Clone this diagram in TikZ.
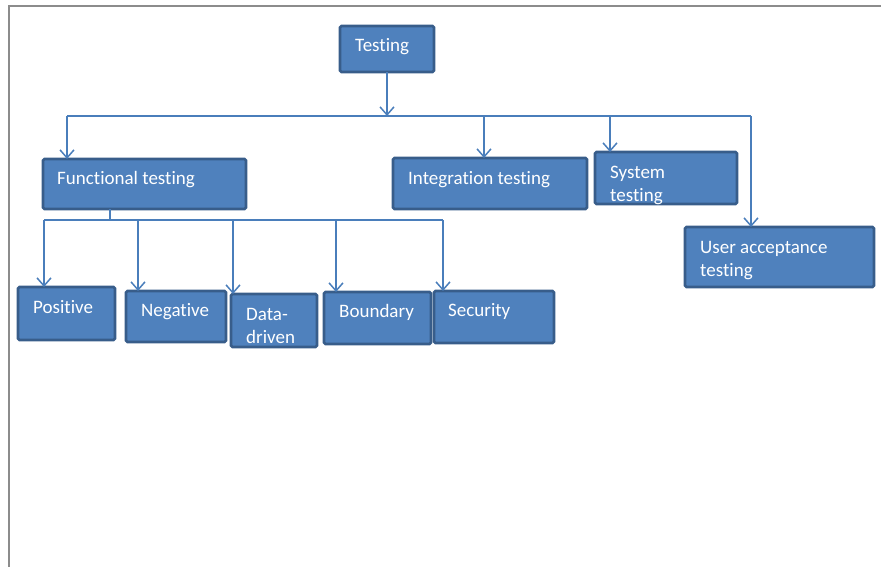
\documentclass[tikz,border=0pt]{standalone}
\usepackage{fontspec}
\setmainfont{Carlito}[Ligatures=NoCommon]
\usetikzlibrary{arrows.meta}
\definecolor{boxfill}{HTML}{4F81BD}
\definecolor{boxline}{HTML}{385D8A}
\definecolor{conncol}{HTML}{4A7EBB}
\definecolor{framecol}{HTML}{8C8C8C}
\tikzset{
  box/.style={draw=boxline, fill=boxfill, line width=2.6pt, rounded corners=1.5pt, outer sep=0pt, inner sep=0pt},
  lbl/.style={text=white, font=\fontsize{19}{23}\selectfont, anchor=base west, align=left, inner sep=0pt},
  conn/.style={draw=conncol, line width=1.5pt},
  arr/.style={conn, -{Straight Barb[length=8pt,width=14pt,line width=1.5pt]}}
}
\begin{document}
\begin{tikzpicture}[x=1pt,y=-1pt]
\useasboundingbox (0,0) rectangle (881,567);
\draw[framecol, line width=2pt] (9,567) -- (9,6) -- (881,6);

% boxes
\node[box, minimum width=94, minimum height=46] (testing) at (387,49) {};
\node[box, minimum width=203, minimum height=50] (func) at (144.5,184) {};
\node[box, minimum width=194, minimum height=51] (integ) at (490,183.5) {};
\node[box, minimum width=142, minimum height=52] (system) at (666,178) {};
\node[box, minimum width=189, minimum height=60] (uat) at (779.5,257) {};
\node[box, minimum width=97, minimum height=53] (pos) at (66.5,313.5) {};
\node[box, minimum width=100, minimum height=51] (neg) at (176,316.5) {};
\node[box, minimum width=86, minimum height=53] (data) at (274,320.5) {};
\node[box, minimum width=107, minimum height=52] (bound) at (377.5,318) {};
\node[box, minimum width=120, minimum height=52] (sec) at (494,317) {};

% labels (base anchor = baseline of the last line)
\node[lbl] (t-testing) at (355,52) {Testing};
\node[lbl] (t-func) at (57,184) {Functional testing};
\node[lbl] (t-integ) at (408,184) {Integration testing};
\node[lbl] (t-system) at (610,201) {System\\testing};
\node[lbl] (t-uat) at (700,276) {User acceptance\\testing};
\node[lbl] (t-pos) at (33,313) {Positive};
\node[lbl] (t-neg) at (141,316) {Negative};
\node[lbl] (t-data) at (246,343) {Data-\\driven};
\node[lbl] (t-bound) at (339,317) {Boundary};
\node[lbl] (t-sec) at (448,316) {Security};

% top bus
\coordinate (busT) at (387,116);
\coordinate (busL) at (67,116);
\coordinate (busI) at (484,116);
\coordinate (busS) at (610,116);
\coordinate (busR) at (751,116);
\draw[arr] (testing.south) -- (busT);
\draw[conn] (busL) -- (busR);
\draw[arr] (busL) -- (busL |- func.north);
\draw[arr] (busI) -- (busI |- integ.north);
\draw[arr] (busS) -- (busS |- system.north);
\draw[arr] (busR) -- (busR |- uat.north);

% functional bus
\coordinate (fdrop) at (110,220);
\coordinate (fL) at (44,220);
\coordinate (fN) at (138,220);
\coordinate (fD) at (233,220);
\coordinate (fB) at (336,220);
\coordinate (fR) at (443,220);
\draw[conn] (fdrop |- func.south) -- (fdrop);
\draw[conn] (fL) -- (fR);
\draw[arr] (fL) -- (fL |- pos.north);
\draw[arr] (fN) -- (fN |- neg.north);
\draw[arr] (fD) -- (fD |- data.north);
\draw[arr] (fB) -- (fB |- bound.north);
\draw[arr] (fR) -- (fR |- sec.north);
\end{tikzpicture}
\end{document}
